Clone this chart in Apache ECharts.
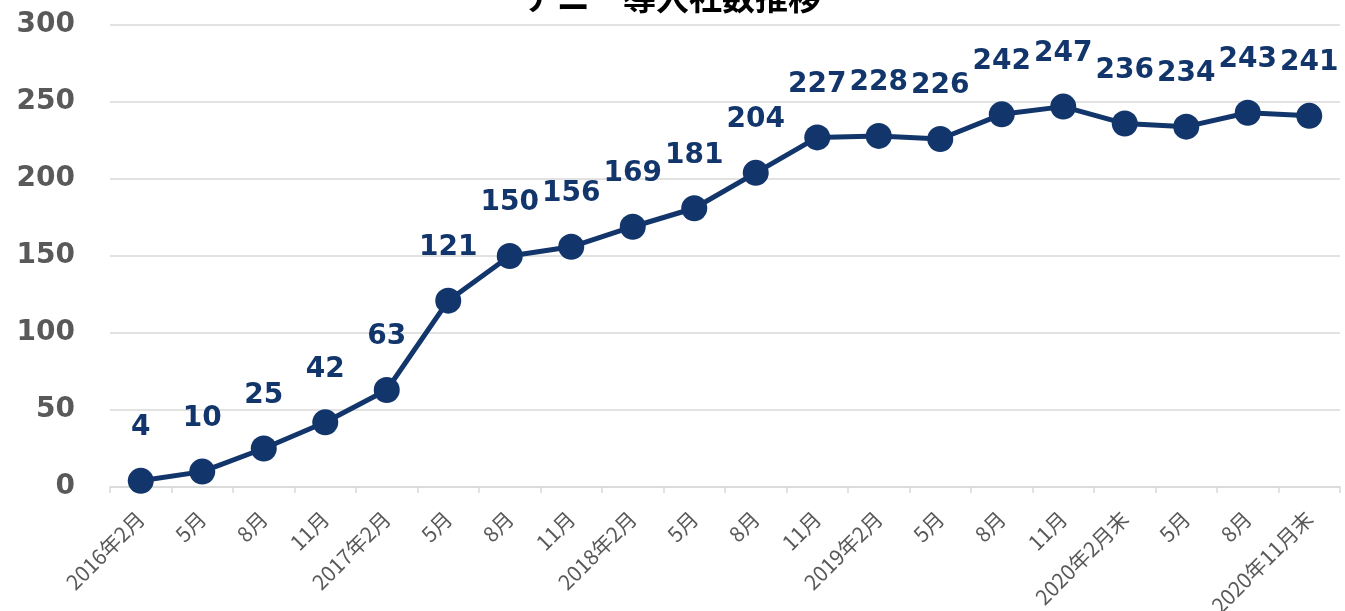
<!DOCTYPE html>
<html>
<head>
<meta charset="utf-8">
<script src="https://cdn.jsdelivr.net/npm/echarts@6/dist/echarts.min.js"></script>
<style>
  html, body { margin: 0; padding: 0; background: #fff; }
  #chart { width: 1345px; height: 611px; }
</style>
</head>
<body>
<div id="chart"></div>
<script>
// 導入社数（四半期ごと）
const categories = [
  '2016年2月', '5月', '8月', '11月',
  '2017年2月', '5月', '8月', '11月',
  '2018年2月', '5月', '8月', '11月',
  '2019年2月', '5月', '8月', '11月',
  '2020年2月末', '5月', '8月', '2020年11月末'
];
const counts = [4, 10, 25, 42, 63, 121, 150, 156, 169, 181, 204, 227, 228, 226, 242, 247, 236, 234, 243, 241];
const yTicks = [0, 50, 100, 150, 200, 250, 300];

const navy = '#12366b';

let myChart = echarts.init(document.getElementById('chart'));
myChart.setOption({
  animation: false,
  title: {
    text: 'アニー導入社数推移',
    left: 'center',
    top: -24,
    textStyle: {
      fontFamily: 'Noto Sans CJK JP',
      fontWeight: 'bold',
      fontSize: 33,
      color: '#000'
    }
  },
  grid: {
    left: 110,
    right: 5,
    top: 25,
    bottom: 124,
    outerBoundsMode: 'none'
  },
  xAxis: {
    type: 'category',
    data: categories,
    boundaryGap: true,
    axisLine: { lineStyle: { color: '#d9d9d9', width: 1.5 } },
    axisTick: { show: true, length: 6, lineStyle: { color: '#d9d9d9', width: 1.5 } },
    axisLabel: {
      rotate: 45,
      interval: 0,
      hideOverlap: false,
      margin: 28,
      fontFamily: 'Noto Sans CJK JP',
      fontSize: 21,
      color: '#595959'
    }
  },
  yAxis: {
    type: 'value',
    min: yTicks[0],
    max: yTicks[yTicks.length - 1],
    interval: 50,
    axisLine: { show: false },
    axisTick: { show: false },
    splitLine: { lineStyle: { color: '#d9d9d9', width: 1.5 } },
    axisLabel: {
      margin: 35,
      fontFamily: 'DejaVu Sans',
      fontWeight: 'bold',
      fontSize: 28,
      color: '#595959'
    }
  },
  series: [
    {
      type: 'line',
      data: counts,
      symbol: 'circle',
      symbolSize: 26,
      lineStyle: { color: navy, width: 5 },
      itemStyle: { color: navy },
      label: {
        show: true,
        position: 'top',
        distance: 26,
        fontFamily: 'DejaVu Sans',
        fontWeight: 'bold',
        fontSize: 28,
        color: navy
      }
    }
  ]
}, true);
</script>
</body>
</html>
